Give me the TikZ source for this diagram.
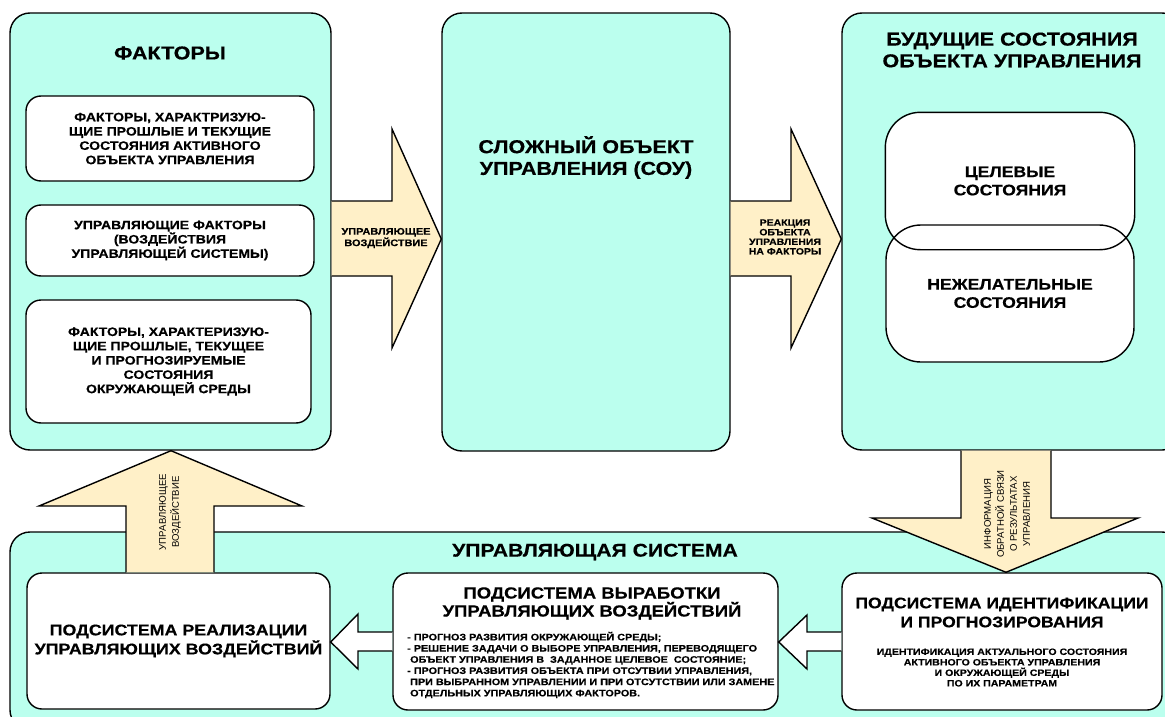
\documentclass[tikz,border=0pt]{standalone}
\usepackage{fontspec}
\setmainfont{Liberation Sans}[BoldFeatures={FakeStretch=1.15,FakeBold=0.4}]
\usetikzlibrary{calc}
\definecolor{cyanbg}{RGB}{187,255,238}
\definecolor{beige}{RGB}{255,240,200}

\begin{document}
\begin{tikzpicture}[x=1pt,y=-1pt,
  bigbox/.style={draw,line width=1.4pt,fill=cyanbg,rounded corners=20pt},
  wbox/.style={draw,line width=1.4pt,fill=white,rounded corners=15pt,align=center,inner sep=0pt},
  ovbox/.style={wbox,rounded corners=35pt},
  blockarr/.style={draw,line width=1.4pt,fill=beige,line join=miter},
  hollowarr/.style={draw,line width=1.4pt,fill=white,line join=miter},
  bigtitle/.style={font=\fontsize{18.7}{21.7}\selectfont\bfseries,align=center},
  subtitle/.style={font=\fontsize{15.5}{19}\selectfont\bfseries,align=center},
  factfont/.style={font=\fontsize{12.2}{14.3}\selectfont\bfseries},
  statefont/.style={font=\fontsize{15.3}{18.3}\selectfont\bfseries},
  arrlabel/.style={font=\fontsize{9.1}{9.6}\selectfont\bfseries,align=center},
  vertlabel/.style={font=\fontsize{9.6}{13}\selectfont,align=center,rotate=90}]

\useasboundingbox (0,0) rectangle (1165,717);
\clip (0,0) rectangle (1165,717);

% big blocks
\node[bigbox,minimum width=321,minimum height=437] (fact) at (170.5,231.5) {};
\node[bigbox,minimum width=288,minimum height=438] (soo) at (586,232) {};
\node[bigbox,minimum width=340,minimum height=437] (fut) at (1012,231.5) {};
\node[bigbox,minimum width=1172,minimum height=198] (ctrl) at (596,631) {};

\node[bigtitle] (factt) at (170,53) {ФАКТОРЫ};
\node[bigtitle] (soot) at (586,157.5) {СЛОЖНЫЙ ОБЪЕКТ\\УПРАВЛЕНИЯ (СОУ)};
\node[bigtitle] (futt) at (1012,50) {БУДУЩИЕ СОСТОЯНИЯ\\ОБЪЕКТА УПРАВЛЕНИЯ};
\node[subtitle,font=\fontsize{18.4}{19}\selectfont\bfseries] (ctrlt) at (595,552) {УПРАВЛЯЮЩАЯ СИСТЕМА};

% factors
\node[wbox,factfont,minimum width=288,minimum height=85] (fact1) at (170,138.5)
  {ФАКТОРЫ, ХАРАКТРИЗУЮ-\\ЩИЕ ПРОШЛЫЕ И ТЕКУЩИЕ\\СОСТОЯНИЯ АКТИВНОГО\\ОБЪЕКТА УПРАВЛЕНИЯ};
\node[wbox,factfont,minimum width=288,minimum height=71] (fact2) at (170,240.5)
  {УПРАВЛЯЮЩИЕ ФАКТОРЫ\\(ВОЗДЕЙСТВИЯ\\УПРАВЛЯЮЩЕЙ СИСТЕМЫ)};
\node[wbox,factfont,minimum width=285,minimum height=123] (fact3) at (168.5,361.5)
  {ФАКТОРЫ, ХАРАКТЕРИЗУЮ-\\ЩИЕ ПРОШЛЫЕ, ТЕКУЩЕЕ\\И ПРОГНОЗИРУЕМЫЕ\\СОСТОЯНИЯ\\ОКРУЖАЮЩЕЙ СРЕДЫ};

% future states
\node[ovbox,draw=none,statefont,minimum width=248,minimum height=136] (goal) at (1010,181) {ЦЕЛЕВЫЕ\\СОСТОЯНИЯ};
\node[ovbox,statefont,minimum width=248,minimum height=137] (bad) at (1010,293.5) {НЕЖЕЛАТЕЛЬНЫЕ\\СОСТОЯНИЯ};
\draw[line width=1.4pt,rounded corners=35pt] (goal.south west) rectangle (goal.north east);

% control system
\node[wbox,subtitle,minimum width=303,minimum height=136] (realiz) at (178.5,641)
  {ПОДСИСТЕМА РЕАЛИЗАЦИИ\\УПРАВЛЯЮЩИХ ВОЗДЕЙСТВИЙ};
\node[wbox,minimum width=385,minimum height=137] (vyr) at (585.5,641.5) {};
\node[wbox,minimum width=320,minimum height=137] (ident) at (1002,641.5) {};

\node[subtitle,font=\fontsize{16.1}{18}\selectfont\bfseries] (vyrt) at (592,603.5) {ПОДСИСТЕМА ВЫРАБОТКИ\\УПРАВЛЯЮЩИХ ВОЗДЕЙСТВИЙ};
\node[font=\fontsize{9.4}{11.2}\selectfont\bfseries,align=left,anchor=west,inner sep=0pt] (vyrl) at (407,665)
  {- ПРОГНОЗ РАЗВИТИЯ ОКРУЖАЮЩЕЙ СРЕДЫ;\\
   - РЕШЕНИЕ ЗАДАЧИ О ВЫБОРЕ УПРАВЛЕНИЯ, ПЕРЕВОДЯЩЕГО\\
   \hspace{3pt}ОБЪЕКТ УПРАВЛЕНИЯ В~ ЗАДАННОЕ ЦЕЛЕВОЕ~ СОСТОЯНИЕ;\\
   - ПРОГНОЗ РАЗВИТИЯ ОБЪЕКТА ПРИ ОТСУТВИИ УПРАВЛЕНИЯ,\\
   \hspace{3pt}ПРИ ВЫБРАННОМ УПРАВЛЕНИИ И ПРИ ОТСУТСТВИИ ИЛИ ЗАМЕНЕ\\
   \hspace{3pt}ОТДЕЛЬНЫХ УПРАВЛЯЮЩИХ ФАКТОРОВ.};

\node[subtitle,font=\fontsize{15.3}{19}\selectfont\bfseries] (identt) at (1002,612.5) {ПОДСИСТЕМА ИДЕНТИФИКАЦИИ\\И ПРОГНОЗИРОВАНИЯ};
\node[font=\fontsize{9.2}{10.5}\selectfont\bfseries,align=center] (identl) at (1002,667.5)
  {ИДЕНТИФИКАЦИЯ АКТУАЛЬНОГО СОСТОЯНИЯ\\АКТИВНОГО ОБЪЕКТА УПРАВЛЕНИЯ\\И ОКРУЖАЮЩЕЙ СРЕДЫ\\ПО ИХ ПАРАМЕТРАМ};

% block arrows
\draw[blockarr] (fact.east |- 0,201) -- (392,201) -- (392,129) -- (soo.west |- 0,239)
  -- (392,348) -- (392,276) -- (fact.east |- 0,276);
\node[arrlabel,font=\fontsize{9.5}{10}\selectfont\bfseries] (a1) at (386,238) {УПРАВЛЯЮЩЕЕ\\ВОЗДЕЙСТВИЕ};

\draw[blockarr] (soo.east |- 0,201) -- (791,201) -- (791,129) -- (fut.west |- 0,239)
  -- (791,348) -- (791,276) -- (soo.east |- 0,276);
\node[arrlabel] (a2) at (785,237) {РЕАКЦИЯ\\ОБЪЕКТА\\УПРАВЛЕНИЯ\\НА ФАКТОРЫ};

\draw[blockarr] (realiz.north -| 126,0) -- (126,506) -- (39,506) -- (fact.south -| 171,0)
  -- (302,506) -- (214,506) -- (realiz.north -| 214,0);
\node[vertlabel] (a3) at (170,512) {УПРАВЛЯЮЩЕЕ\\ВОЗДЕЙСТВИЕ};

\draw[blockarr] (fut.south -| 961,0) -- (961,518) -- (872,518) -- (ident.north -| 1006,0)
  -- (1138,518) -- (1051,518) -- (fut.south -| 1051,0);
\node[vertlabel,font=\fontsize{9.6}{13}\selectfont] (a4) at (1007,514)
  {ИНФОРМАЦИЯ\\ОБРАТНОЙ СВЯЗИ\\О РЕЗУЛЬТАТАХ\\УПРАВЛЕНИЯ};

\draw[hollowarr] (ident.west |- 0,632) -- (807,632) -- (807,615) -- (vyr.east |- 0,642)
  -- (807,669) -- (807,651) -- (ident.west |- 0,651);
\draw[hollowarr] (vyr.west |- 0,632) -- (358,632) -- (358,614) -- (realiz.east |- 0,642)
  -- (358,669) -- (358,651) -- (vyr.west |- 0,651);

\end{tikzpicture}
\end{document}
